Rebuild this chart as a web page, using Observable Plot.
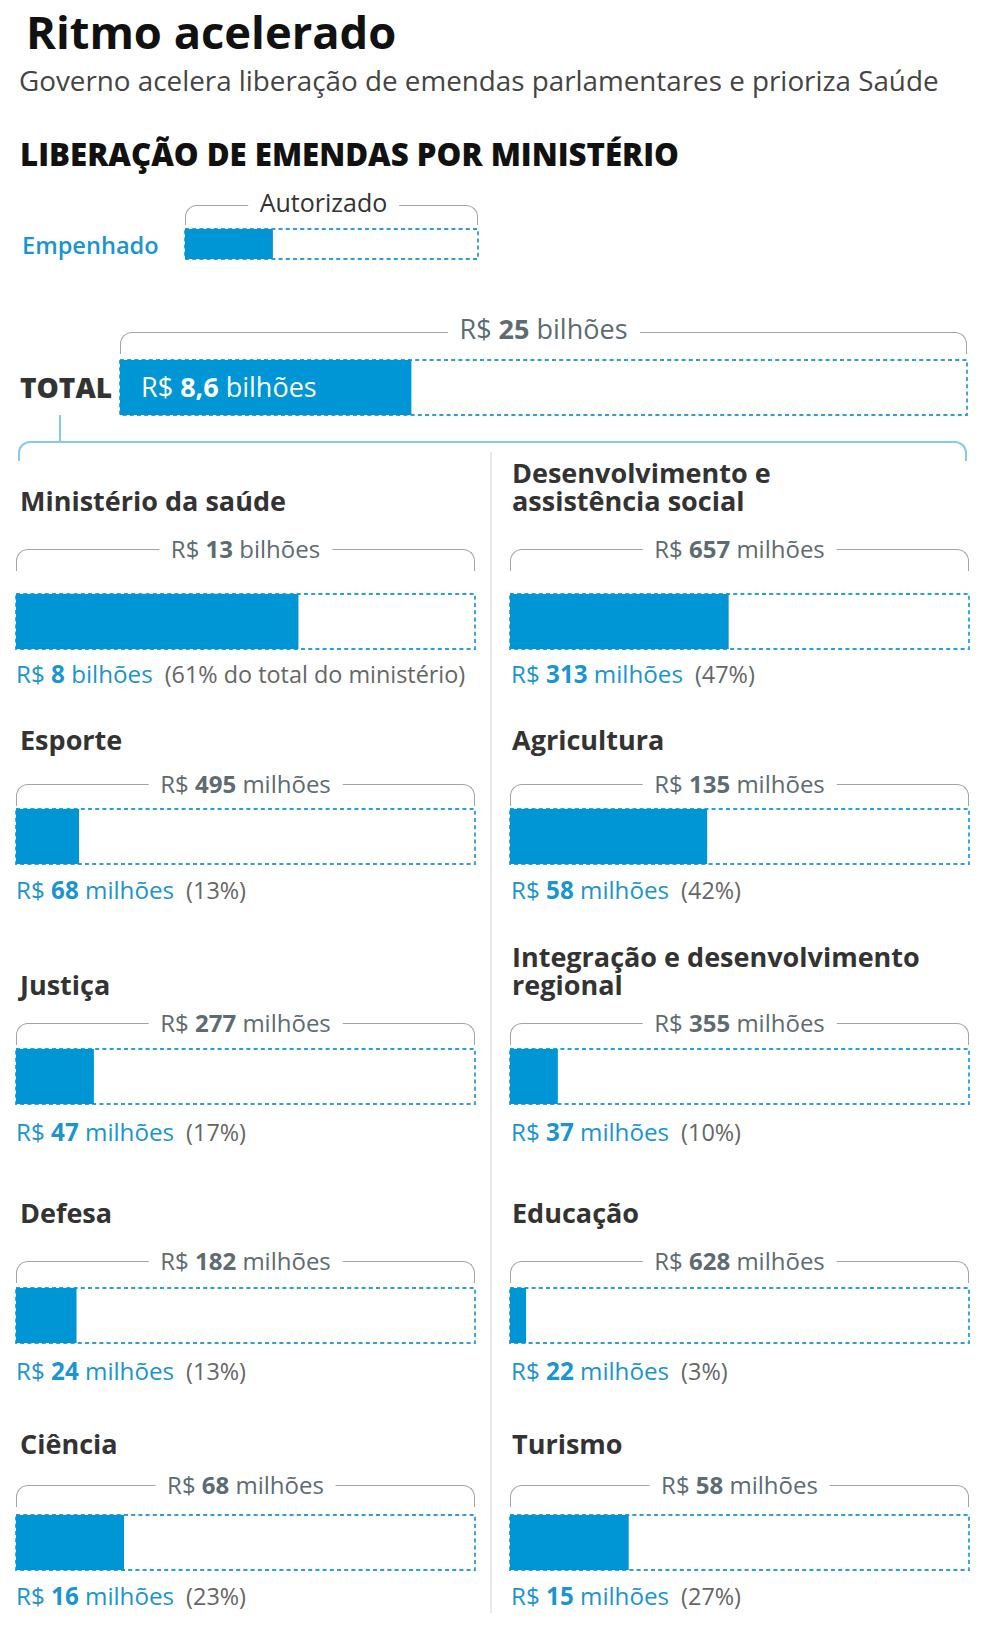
<!DOCTYPE html>
<html><head><meta charset="utf-8">
<script src="https://cdn.jsdelivr.net/npm/d3@7"></script>
<script src="https://cdn.jsdelivr.net/npm/@observablehq/plot@0.6"></script>
<style>
html,body{margin:0;padding:0;background:#fff;}
#root{position:relative;width:984px;height:1639px;font-family:"Open Sans",sans-serif;overflow:hidden;background:#fff;}
.t{position:absolute;white-space:pre;}
.br{position:absolute;box-sizing:border-box;border-style:solid;border-bottom:none;border-radius:12px 12px 0 0;}
.brl{position:absolute;left:50%;transform:translateX(-50%);background:#fff;padding:0 12px;white-space:pre;}
</style></head><body><div id="root"></div>
<script>
// ---------- DATA ----------
const ministerios = ["Ministério da saúde","Desenvolvimento e\nassistência social","Esporte","Agricultura","Justiça","Integração e desenvolvimento\nregional","Defesa","Educação","Ciência","Turismo"];
const autorizadoMilhoes = [13000, 657, 495, 135, 277, 355, 182, 628, 68, 58];
const empenhadoMilhoes = [8000, 313, 68, 58, 47, 37, 24, 22, 16, 15];
const percentualEmpenhado = [61, 47, 13, 42, 17, 10, 13, 3, 23, 27];
const totalRotulos = ["Autorizado", "Empenhado"];
const totalBilhoes = [25, 8.6];
const legendaFracao = [1, 0.3];

// ---------- LAYOUT / STYLE ----------
const BLUE = "#0096d6", DASH = "#2a9fd9", BLUE_TXT = "#1a94d2", GRAY_TXT = "#5d6b72", BR_GRAY = "#a4a4a4";
const COLS = [{x: 16, w: 459, tx: 20, lx: 16}, {x: 510, w: 459, tx: 512, lx: 511}];
const ROWS = [
  {title: 502, bracket: 549, barTop: 594, label: 675},
  {title: 741, bracket: 784, barTop: 809, label: 891},
  {title: 986, bracket: 1023, barTop: 1049, label: 1133},
  {title: 1214, bracket: 1261, barTop: 1288, label: 1372},
  {title: 1445, bracket: 1485, barTop: 1515, label: 1597}
];
const root = document.getElementById("root");

function text(html, x, center, fs, opts = {}) {
  const lh = opts.lh || fs, n = opts.lines || 1;
  const d = document.createElement("div");
  d.className = "t";
  d.innerHTML = html;
  Object.assign(d.style, {
    left: x + "px", top: (center - lh / 2 - 0.031 * fs - (n - 1) * lh) + "px",
    fontSize: fs + "px", lineHeight: lh + "px", fontWeight: opts.weight || 400, color: opts.color || "#333"
  });
  root.appendChild(d);
  return d;
}

function bracket(x, y, w, h, labelHtml, fs, dy, color, bw = 1.6, labelColor = GRAY_TXT, dx = 0) {
  const d = document.createElement("div");
  d.className = "br";
  Object.assign(d.style, {left: x + "px", top: y + "px", width: w + "px", height: h + "px", borderColor: color, borderWidth: bw + "px"});
  if (labelHtml) {
    const l = document.createElement("div");
    l.className = "brl";
    l.innerHTML = labelHtml;
    Object.assign(l.style, {fontSize: fs + "px", lineHeight: fs + "px", top: (dy - bw / 2 - fs / 2 - 0.031 * fs) + "px", color: labelColor, marginLeft: dx + "px"});
    d.appendChild(l);
  }
  root.appendChild(d);
}

function bar(total, value, x, top, w, h) {
  const data = [{autorizado: total, empenhado: value}];
  const svg = Plot.plot({
    width: w + 2, height: h + 2, margin: 1,
    x: {domain: [0, total], axis: null},
    style: {background: "transparent", overflow: "visible"},
    marks: [
      Plot.barX(data, {x1: () => 0, x2: "autorizado", fill: "white", stroke: DASH, strokeWidth: 1.8, strokeDasharray: "4,3.2"}),
      Plot.barX(data, {x1: () => 0, x2: "empenhado", fill: BLUE})
    ]
  });
  Object.assign(svg.style, {position: "absolute", left: (x - 1) + "px", top: (top - 1) + "px"});
  root.appendChild(svg);
}

const fmt = v => v >= 1000 ? [String(v / 1000).replace(".", ","), "bilhões"] : [String(v), "milhões"];

// ---------- HEADER ----------
text("Ritmo acelerado", 26, 33, 45.3, {weight: 700, color: "#111"});
text("Governo acelera liberação de emendas parlamentares e prioriza Saúde", 19, 81.5, 27.8, {color: "#444"});
text("LIBERAÇÃO DE EMENDAS POR MINISTÉRIO", 20, 156, 31.2, {weight: 800, color: "#111"});

// ---------- LEGEND ----------
bracket(185, 205, 293, 20, totalRotulos[0], 25, -1.5, BR_GRAY, 1.6, "#333", -8);
bar(legendaFracao[0], legendaFracao[1], 185, 229, 293, 30);
text(totalRotulos[1], 22, 247, 23.6, {weight: 600, color: BLUE_TXT});

// ---------- TOTAL ----------
const fmtBi = v => String(v).replace(".", ",");
bracket(120, 332, 847, 22, `R$ <b>${fmtBi(totalBilhoes[0])}</b> bilhões`, 27, -3, BR_GRAY);
bar(totalBilhoes[0], totalBilhoes[1], 120, 360, 847, 55);
text("TOTAL", 20, 388, 28, {weight: 800, color: "#333"});
text(`R$ <b>${fmtBi(totalBilhoes[1])}</b> bilhões`, 141, 387, 27, {color: "#fff"});

// connector
const stem = document.createElement("div");
Object.assign(stem.style, {position: "absolute", left: "59px", top: "415px", width: "2px", height: "27px", background: "#86cbee"});
root.appendChild(stem);
bracket(18, 441, 949, 20, null, 0, 0, "#86cbee", 2);

// divider
const div = document.createElement("div");
Object.assign(div.style, {position: "absolute", left: "490px", top: "452px", width: "2px", height: "1161px", background: "#e8e8e8"});
root.appendChild(div);

// ---------- PANELS ----------
ministerios.forEach((m, i) => {
  const col = COLS[i % 2], row = ROWS[Math.floor(i / 2)];
  const lines = m.split("\n").length;
  text(m, col.tx, row.title, 27, {lh: 28, lines, weight: 700, color: "#333"});
  const [a, ua] = fmt(autorizadoMilhoes[i]);
  bracket(col.x, row.bracket, col.w, 22, `R$ <b>${a}</b> ${ua}`, 24, 1, BR_GRAY);
  bar(autorizadoMilhoes[i], empenhadoMilhoes[i], col.x, row.barTop, col.w, 55);
  const [e, ue] = fmt(empenhadoMilhoes[i]);
  const pct = i === 0 ? `(${percentualEmpenhado[i]}% do total do ministério)` : `(${percentualEmpenhado[i]}%)`;
  text(`<span style="color:${BLUE_TXT}">R$ <b>${e}</b> ${ue}</span><span style="color:#666;font-size:23.4px;margin-left:12px">${pct}</span>`, col.lx, row.label, 24.2);
});
</script></body></html>
